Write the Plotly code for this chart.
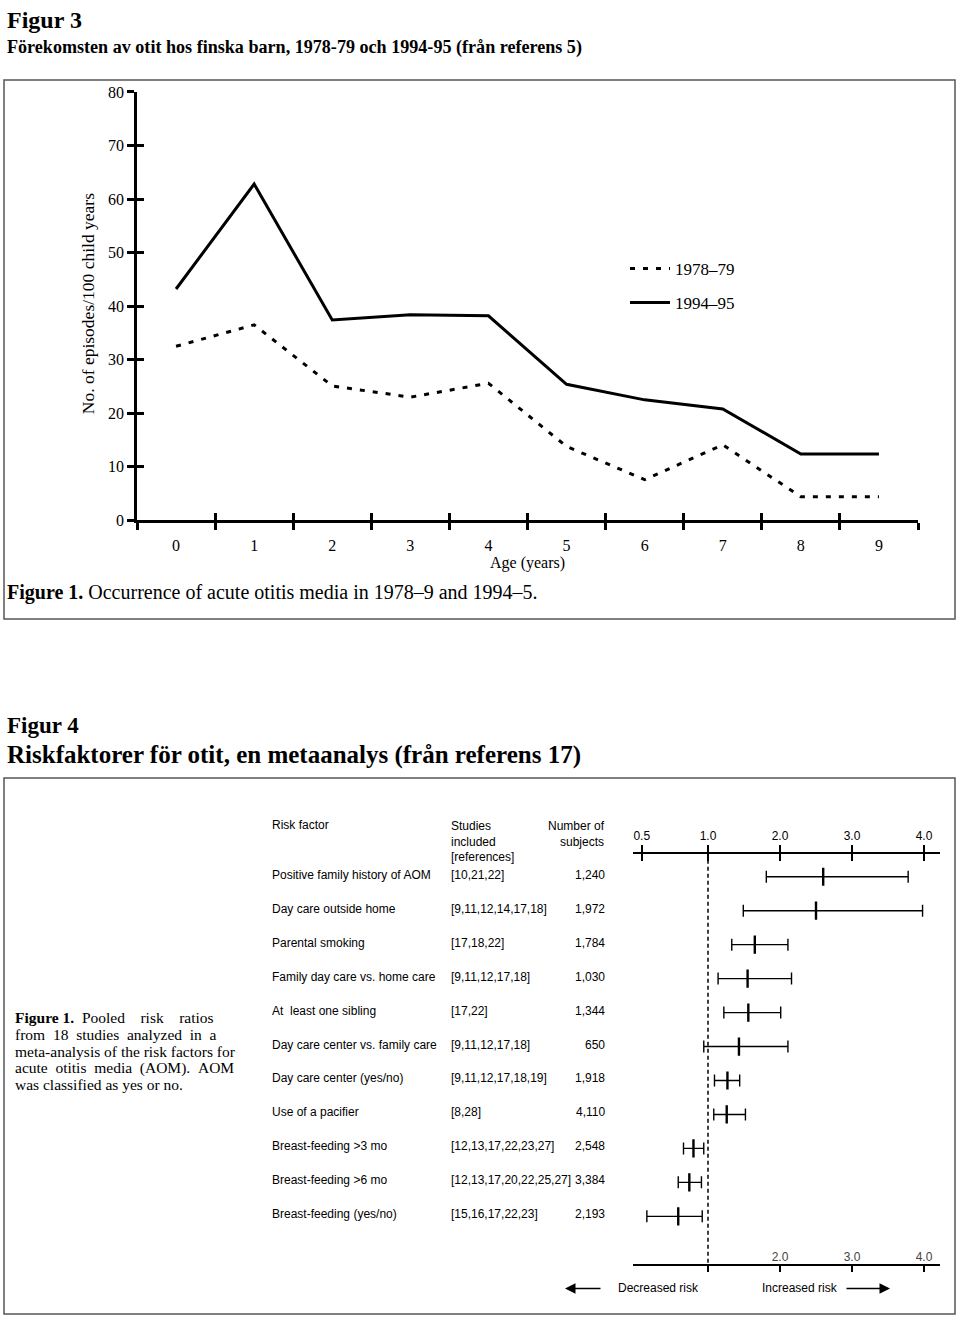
import plotly.graph_objects as go

# ---------------- data: Figure 3 ----------------
ages = [0, 1, 2, 3, 4, 5, 6, 7, 8, 9]
rate_1978_79 = [32.5, 36.5, 25.1, 23.0, 25.6, 13.8, 7.6, 14.1, 4.4, 4.4]
rate_1994_95 = [43.2, 62.8, 37.4, 38.4, 38.2, 25.4, 22.5, 20.8, 12.4, 12.4]
y_ticks = [0, 10, 20, 30, 40, 50, 60, 70, 80]

# ---------------- data: Figure 4 ----------------
risk_factors = [
    "Positive family history of AOM",
    "Day care outside home",
    "Parental smoking",
    "Family day care vs. home care",
    "At  least one sibling",
    "Day care center vs. family care",
    "Day care center (yes/no)",
    "Use of a pacifier",
    "Breast-feeding >3 mo",
    "Breast-feeding >6 mo",
    "Breast-feeding (yes/no)",
]
studies = [
    "[10,21,22]",
    "[9,11,12,14,17,18]",
    "[17,18,22]",
    "[9,11,12,17,18]",
    "[17,22]",
    "[9,11,12,17,18]",
    "[9,11,12,17,18,19]",
    "[8,28]",
    "[12,13,17,22,23,27]",
    "[12,13,17,20,22,25,27]",
    "[15,16,17,22,23]",
]
subjects = ["1,240", "1,972", "1,784", "1,030", "1,344", "650", "1,918",
            "4,110", "2,548", "3,384", "2,193"]
rr_point = [2.60, 2.50, 1.65, 1.55, 1.56, 1.43, 1.27, 1.26, 0.82, 0.78, 0.69]
rr_low = [1.81, 1.49, 1.33, 1.14, 1.22, 0.94, 1.09, 1.08, 0.73, 0.69, 0.52]
rr_high = [3.78, 3.98, 2.11, 2.16, 2.01, 2.11, 1.44, 1.52, 0.94, 0.91, 0.92]
rr_top_ticks = [0.5, 1.0, 2.0, 3.0, 4.0]
rr_bottom_ticks = [1.0, 2.0, 3.0, 4.0]

caption4_lines = [
    "<b>Figure 1.</b>\u00a0\u00a0Pooled\u00a0\u00a0\u00a0\u00a0risk\u00a0\u00a0\u00a0\u00a0ratios",
    "from\u00a0\u00a018\u00a0\u00a0studies\u00a0\u00a0analyzed\u00a0\u00a0in\u00a0\u00a0a",
    "meta-analysis of the risk factors for",
    "acute\u00a0\u00a0otitis\u00a0\u00a0media\u00a0\u00a0(AOM).\u00a0\u00a0AOM",
    "was classified as yes or no.",
]

W, H = 960, 1327
SERIF = "Liberation Serif"
SANS = "Liberation Sans"


def px(x):
    return x / W


def py(y):
    return 1 - y / H


def rr_scale(v):
    # the published risk-ratio axis: linear above 1, reciprocal below 1
    return v - 1 if v >= 1 else 0.92 * (1 - 1 / v)


rows = list(range(len(risk_factors)))
t_pt = [rr_scale(v) for v in rr_point]
t_lo = [rr_scale(v) for v in rr_low]
t_hi = [rr_scale(v) for v in rr_high]

fig = go.Figure()

# ---------- Figure 3 lines ----------
fig.add_trace(go.Scatter(
    x=ages, y=rate_1978_79, mode="lines", name="1978\u201379", legendgroup="a",
    line=dict(color="black", width=3, dash="5px,8px"),
    xaxis="x", yaxis="y"))
fig.add_trace(go.Scatter(
    x=ages, y=rate_1994_95, mode="lines", name="1994\u201395", legendgroup="b",
    line=dict(color="black", width=3),
    xaxis="x", yaxis="y"))

# invisible carriers so the overlay (tick) axes get drawn
for xa, ya in (("x5", "y"), ("x6", "y"), ("x", "y5")):
    fig.add_trace(go.Scatter(x=ages, y=rate_1994_95, mode="markers",
                             marker=dict(opacity=0), showlegend=False,
                             hoverinfo="skip", xaxis=xa, yaxis=ya))

# ---------- Figure 4 forest plot ----------
fig.add_trace(go.Scatter(
    x=t_pt, y=rows, mode="markers", showlegend=False,
    marker=dict(symbol="line-ns", size=13, color="black",
                line=dict(color="black", width=2.4)),
    error_x=dict(type="data", symmetric=False,
                 array=[h - p for h, p in zip(t_hi, t_pt)],
                 arrayminus=[p - l for p, l in zip(t_pt, t_lo)],
                 color="black", thickness=1.4, width=6),
    xaxis="x2", yaxis="y2"))
for xa in ("x3", "x4"):
    fig.add_trace(go.Scatter(x=t_pt, y=rows, mode="markers",
                             marker=dict(opacity=0), showlegend=False,
                             hoverinfo="skip", xaxis=xa, yaxis="y2"))

axis_common = dict(showgrid=False, zeroline=False, color="black")
fr = [(633 - 708) / 72, (940 - 708) / 72]

layout = dict(
    width=W, height=H, margin=dict(l=0, r=0, t=0, b=0),
    paper_bgcolor="white", plot_bgcolor="rgba(0,0,0,0)",
    font=dict(family=SERIF, color="black", size=15),
    showlegend=True, hovermode=False,
    legend=dict(x=px(625), y=py(246), xanchor="left", yanchor="top",
                bgcolor="rgba(0,0,0,0)", font=dict(family=SERIF, size=17),
                itemwidth=40, tracegroupgap=9),
    # Figure 3 axes
    xaxis=dict(domain=[px(137), px(918)], range=[-0.5, 9.5], anchor="y",
               showline=True, linewidth=2.5, linecolor="black",
               tickmode="array", tickvals=[i - 0.5 for i in range(11)],
               ticks="outside", ticklen=7, tickwidth=2.5, showticklabels=False,
               **axis_common),
    xaxis5=dict(overlaying="x", anchor="y", range=[-0.5, 9.5],
                tickmode="array", tickvals=[i - 0.5 for i in range(11)],
                ticks="inside", ticklen=7, tickwidth=2.5, showline=False,
                showticklabels=False, **axis_common),
    xaxis6=dict(overlaying="x", anchor="y", range=[-0.5, 9.5],
                tickmode="array", tickvals=ages, ticktext=[str(a) for a in ages],
                ticks="", showline=False, ticklabelstandoff=14,
                tickfont=dict(family=SERIF, size=16), **axis_common),
    yaxis=dict(domain=[py(519), py(85)], range=[0, 80], anchor="x",
               showline=True, linewidth=2.5, linecolor="black",
               tickmode="array", tickvals=y_ticks,
               ticks="outside", ticklen=7, tickwidth=2.5,
               tickfont=dict(family=SERIF, size=16), ticklabelstandoff=0,
               **axis_common),
    yaxis5=dict(overlaying="y", anchor="x", range=[0, 80],
                tickmode="array", tickvals=y_ticks,
                ticks="inside", ticklen=7, tickwidth=2.5, showline=False,
                showticklabels=False, **axis_common),
    # Figure 4 axes
    xaxis2=dict(domain=[px(633), px(940)], range=fr, anchor="y2",
                side="top", showline=True, linewidth=1.5, linecolor="black",
                tickmode="array", tickvals=[rr_scale(v) for v in rr_top_ticks],
                ticktext=["%.1f" % v for v in rr_top_ticks],
                ticks="outside", ticklen=7, tickwidth=1.5,
                tickfont=dict(family=SANS, size=12), ticklabelstandoff=0,
                **axis_common),
    xaxis4=dict(overlaying="x2", anchor="y2", side="top", range=fr,
                tickmode="array", tickvals=[rr_scale(v) for v in rr_top_ticks],
                ticks="inside", ticklen=7, tickwidth=1.5, showline=False,
                showticklabels=False, **axis_common),
    xaxis3=dict(overlaying="x2", anchor="y2", side="bottom", range=fr,
                showline=True, linewidth=1.5, linecolor="black",
                tickmode="array", tickvals=[rr_scale(v) for v in rr_bottom_ticks],
                ticktext=["" if v == 1.0 else "%.1f" % v for v in rr_bottom_ticks],
                ticks="outside", ticklen=7, tickwidth=1.5,
                ticklabelposition="inside",
                tickfont=dict(family=SANS, size=12), **axis_common),
    yaxis2=dict(domain=[py(1272), py(857)], range=[11.395, -0.669],
                anchor="x2", visible=False),
)
fig.update_layout(**layout)

# ---------- shapes: frames + reference line ----------
frame = dict(type="rect", xref="paper", yref="paper",
             line=dict(color="#555555", width=1.5), fillcolor="rgba(0,0,0,0)")
fig.add_shape(x0=px(4), x1=px(955), y0=py(619), y1=py(73), **frame)
fig.add_shape(x0=px(4), x1=px(955), y0=py(1323), y1=py(780), **frame)
fig.add_shape(type="line", xref="x2", yref="y2 domain",
              x0=rr_scale(1.0), x1=rr_scale(1.0), y0=-0.015, y1=1,
              line=dict(color="black", width=1.5, dash="4px,3px"))

ann = []


def text(x, y, s, size, family=SERIF, xanchor="left", yanchor="middle", **kw):
    ann.append(dict(x=px(x), y=py(y), xref="paper", yref="paper", text=s,
                    showarrow=False, xanchor=xanchor, yanchor=yanchor,
                    font=dict(family=family, size=size, color="black"), **kw))


# page titles
text(5, 12, "<b>Figur 3</b>", 24)
text(5, 40, "<b>F\u00f6rekomsten av otit hos finska barn, 1978-79 och 1994-95 (fr\u00e5n referens 5)</b>", 18.1)
text(5, 727, "<b>Figur 4</b>", 23)
text(5, 757, "<b>Riskfaktorer f\u00f6r otit, en metaanalys (fr\u00e5n referens 17)</b>", 25)

# Figure 3 texts
text(88, 300, "No. of episodes/100 child years", 17.5, xanchor="center",
     textangle=-90)
text(527, 562, "Age (years)", 16, xanchor="center")
text(5, 592, "<b>Figure 1.</b> Occurrence of acute otitis media in 1978\u20139 and 1994\u20135.", 20)

# Figure 4 table header
text(270, 828, "Risk factor", 12, family=SANS)
text(449, 844, "Studies<br>included<br>[references]", 12, family=SANS, align="left")
text(607, 837, "Number of<br>subjects", 12, family=SANS, xanchor="right", align="right")

# Figure 4 table rows
for r, (rf, st, n) in enumerate(zip(risk_factors, studies, subjects)):
    for xx, s, xa in ((270, rf, "left"), (449, st, "left"), (607, n, "right")):
        ann.append(dict(x=px(xx), y=r, xref="paper", yref="y2", text=s,
                        showarrow=False, xanchor=xa, yanchor="middle", yshift=2,
                        font=dict(family=SANS, size=12, color="black")))

# left caption of figure 4 (one annotation per line for tight leading)
for i, line in enumerate(caption4_lines):
    text(13, 1023 + 16.9 * i, line, 15.5)

# direction labels and arrows
text(616, 1297, "Decreased risk", 12, family=SANS)
text(760, 1297, "Increased risk", 12, family=SANS)
for head, tail in ((565, 602), (890, 845)):
    ann.append(dict(x=px(head), y=py(1297), xref="paper", yref="paper",
                    ax=tail - head, ay=0, axref="pixel", ayref="pixel",
                    text="", showarrow=True, arrowhead=2, arrowsize=1.4,
                    arrowwidth=1.5, arrowcolor="black"))

fig.update_layout(annotations=ann)
fig.write_html(
    "out.html",
    config={"displayModeBar": False},
    post_script=(
        "document.documentElement.style.margin='0';"
        "document.body.style.margin='0';"
        "document.body.style.overflow='hidden';"
        "var gd=document.getElementById('{plot_id}');"
        "gd.style.position='fixed';gd.style.left='0px';gd.style.top='0px';"
    ),
)
